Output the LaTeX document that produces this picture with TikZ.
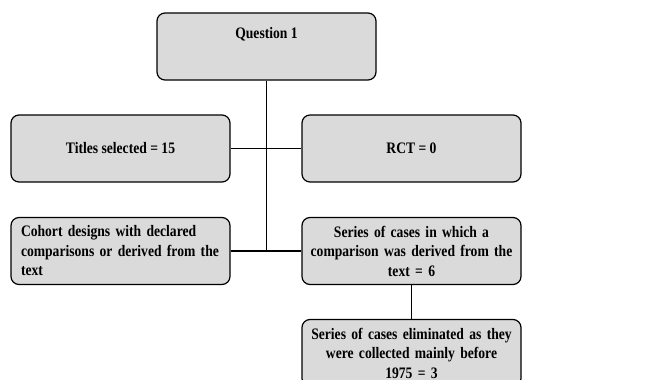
\documentclass[tikz,border=0pt]{standalone}
\usepackage{fontspec}
\setmainfont{Liberation Serif}[FakeStretch=0.85]
\definecolor{boxgray}{RGB}{218,218,218}
\begin{document}
\begin{tikzpicture}[x=1pt,y=1pt,
	box/.style={shape=rectangle,rounded corners=8pt,draw=black,fill=boxgray,line width=1.2pt,minimum width=219pt,minimum height=67pt,inner sep=0pt,font=\fontsize{16}{19.5}\selectfont\bfseries}]
	
	\useasboundingbox (0,0) rectangle (649,-380);
	\clip (0,0) rectangle (649,-380);
	
	\node[box,text height=11pt,text depth=28pt] (q1) at (266.5,-46.5) {Question 1};
	\node[box] (titles) at (120.5,-148.5) {Titles selected = 15};
	\node[box] (rct) at (411.5,-148.5) {RCT = 0};
	\node[box,text width=199pt,align=left] (cohort) at (120.5,-251) {Cohort designs with declared\\comparisons or derived from the\\text};
	\node[box,text width=205pt,align=center] (series) at (411.5,-251) {Series of cases in which a\\comparison was derived from the\\text = 6};
	\node[box,text width=205pt,align=center] (elim) at (411.5,-353) {Series of cases eliminated as they\\were collected mainly before\\1975 = 3};
	
	\coordinate (j) at (q1.south |- cohort.east);
	
	\path[-, line width=1.5pt] (q1) edge (j);
	\path[-, line width=1.5pt] (titles) edge (rct);
	\path[-, line width=1.5pt] (cohort) edge (series);
	\path[-, line width=1.5pt] (series) edge (elim);
	
\end{tikzpicture}
\end{document}
